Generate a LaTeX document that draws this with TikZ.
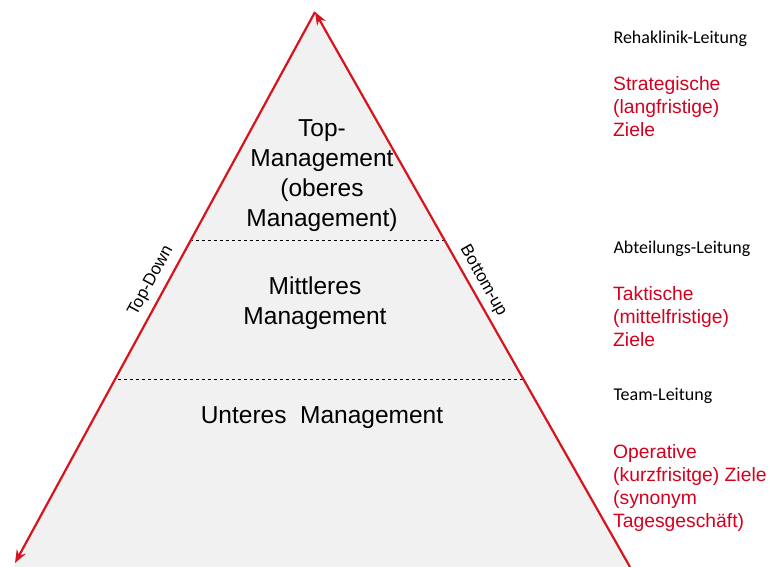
\documentclass[tikz,border=0pt]{standalone}
\usepackage{fontspec}
\setmainfont{Liberation Sans}
\newfontfamily\calibrifont{Carlito}
\usetikzlibrary{arrows.meta}
\definecolor{pyrred}{HTML}{D7141E}
\definecolor{zielred}{HTML}{D4001E}
\definecolor{pyrgray}{HTML}{F1F1F1}
\begin{document}
\begin{tikzpicture}[x=1pt,y=-1pt,
    redline/.style={draw=pyrred, line width=2.2pt, -{Stealth[length=13pt,width=10pt]}},
    sep/.style={dashed, line width=0.8pt},
    ebene/.style={align=center, font=\fontsize{24.5}{30}\selectfont},
    seite/.style={font=\fontsize{17}{20}\selectfont},
    leitung/.style={anchor=west, font=\calibrifont\fontsize{18}{21}\selectfont},
    ziele/.style={anchor=north west, align=left, text=zielred, font=\fontsize{19.3}{23}\selectfont, inner sep=0pt}]

    \useasboundingbox (0,0) rectangle (777,567);

    % Eckpunkte
    \coordinate (apex) at (315,12);
    \coordinate (bl) at (15,563);
    \coordinate (br) at (630,567);

    % Pyramide
    \fill[pyrgray] (apex) -- (13,567) -- (br) -- cycle;

    % Trennlinien
    \coordinate (s1l) at (190,240);
    \coordinate (s1r) at (444,240);
    \coordinate (s2l) at (118,379);
    \coordinate (s2r) at (523,379);
    \draw[sep] (s1l) -- (s1r);
    \draw[sep] (s2l) -- (s2r);

    % Pfeile
    \draw[redline] (apex) -- (bl);
    \draw[redline] (br) -- (apex);

    % Beschriftung der Seiten
    \node[seite, rotate=61.4] (topdown) at (151,281) {Top-Down};
    \node[seite, rotate=-60.4] (bottomup) at (483,281) {Bottom-up};

    % Ebenen
    \node[ebene] (topm) at (322,176) {Top-\\Management\\(oberes\\Management)};
    \node[ebene] (mittm) at (315,303) {Mittleres\\Management};
    \node[ebene] (untm) at (322,418) {Unteres~ Management};

    % Rechte Spalte
    \node[leitung] (reha) at (610,39) {Rehaklinik-Leitung};
    \node[ziele] (strat) at (613,76) {Strategische\\(langfristige)\\Ziele};
    \node[leitung] (abt) at (610,249) {Abteilungs-Leitung};
    \node[ziele] (takt) at (613,286) {Taktische\\(mittelfristige)\\Ziele};
    \node[leitung] (team) at (610,396) {Team-Leitung};
    \node[ziele] (oper) at (613,444) {Operative\\(kurzfrisitge) Ziele\\(synonym\\Tagesgeschäft)};

\end{tikzpicture}
\end{document}
